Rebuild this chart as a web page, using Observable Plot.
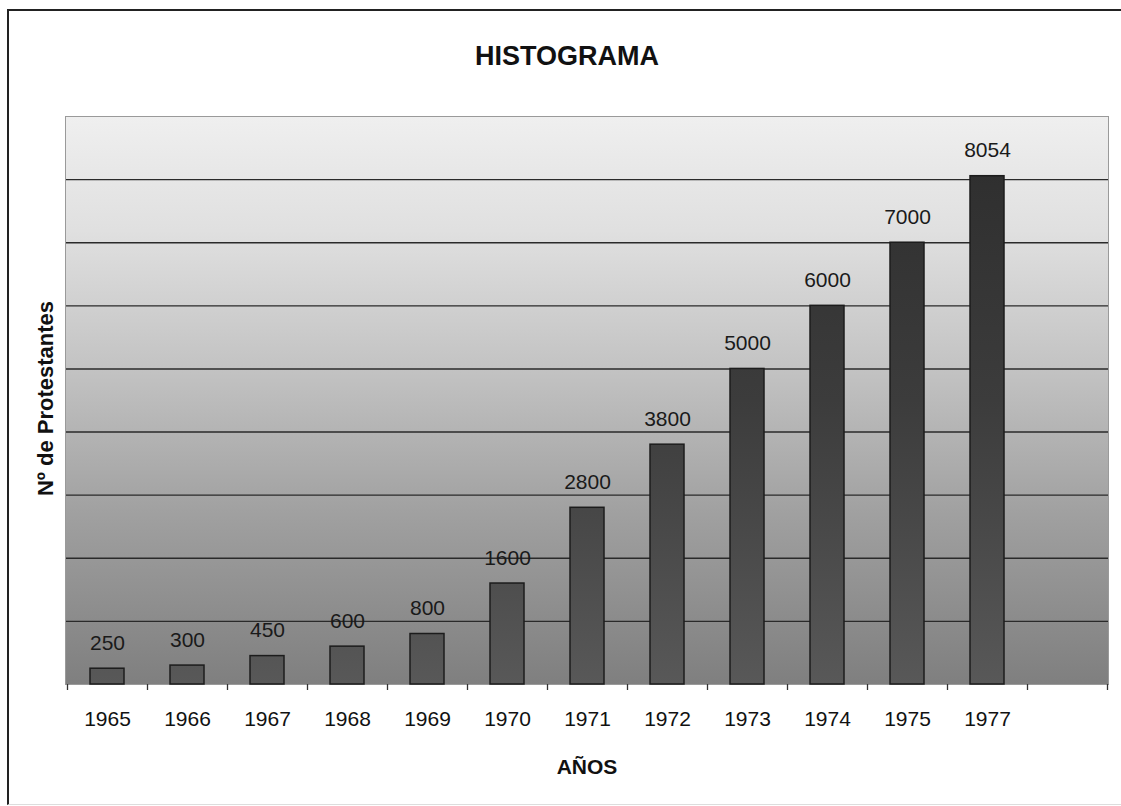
<!DOCTYPE html>
<html>
<head>
<meta charset="utf-8">
<script src="https://cdn.jsdelivr.net/npm/d3@7"></script>
<script src="https://cdn.jsdelivr.net/npm/@observablehq/plot@0.6"></script>
<style>
  html, body { margin: 0; padding: 0; background: #fff; overflow: hidden; }
  #wrap { position: relative; width: 1121px; height: 806px; overflow: hidden; }
  #frame { position: absolute; left: 7px; top: 9px; right: -20px; bottom: 1px;
           border-left: 2px solid #222; border-top: 2px solid #222; border-bottom: 1px solid #ddd;
           pointer-events: none; }
  #chart { position: absolute; left: 0; top: 0; }
</style>
</head>
<body>
<div id="wrap"><div id="chart"></div><div id="frame"></div></div>
<script>
const title = "HISTOGRAMA";
const xTitle = "AÑOS";
const yTitle = "Nº de Protestantes";
const years = ["1965", "1966", "1967", "1968", "1969", "1970", "1971", "1972", "1973", "1974", "1975", "1977"];
const values = [250, 300, 450, 600, 800, 1600, 2800, 3800, 5000, 6000, 7000, 8054];
const xDomain = [...years, " "];
const yDomain = [0, 9000];
const gridValues = [1000, 2000, 3000, 4000, 5000, 6000, 7000, 8000];

const data = years.map((year, i) => ({year, value: values[i]}));
const font = "'Liberation Sans', Arial, Helvetica, sans-serif";

const svg = Plot.plot({
  width: 1121,
  height: 806,
  marginLeft: 65,
  marginRight: 13,
  marginTop: 116,
  marginBottom: 122,
  style: {fontFamily: font, fontSize: "21px", color: "#111", background: "transparent"},
  x: {type: "band", domain: xDomain, paddingInner: 0.575, paddingOuter: 0.2875},
  y: {domain: yDomain, axis: null},
  marks: [
    Plot.frame({fill: "url(#bg)"}),
    Plot.ruleY(gridValues, {stroke: "#2a2a2a", strokeWidth: 1.4}),
    Plot.ruleY([0], {stroke: "#555", strokeWidth: 1}),
    Plot.frame({stroke: "#9a9a9a", strokeWidth: 1}),
    Plot.barY(data, {x: "year", y: "value", fill: "url(#barg)", stroke: "#1c1c1c", strokeWidth: 1.5}),
    Plot.text(data, {x: "year", y: "value", text: d => String(d.value), lineAnchor: "bottom", dy: -19, fontSize: 21, fill: "#1a1a1a"}),
    Plot.ruleX(xDomain, {x: d => d, y1: 0, y2: 0, dx: -40, insetBottom: -6, stroke: "#333", strokeWidth: 1.3}),
    Plot.ruleX([xDomain[xDomain.length - 1]], {x: d => d, y1: 0, y2: 0, dx: 40, insetBottom: -6, stroke: "#333", strokeWidth: 1.3}),
    Plot.axisX({tickSize: 0, tickPadding: 27, fontSize: 21, label: null}),
    Plot.text([title], {text: d => d, frameAnchor: "top", textAnchor: "middle", lineAnchor: "bottom", dy: -52, dx: -20, fontSize: 27, fontWeight: "bold", fill: "#111"}),
    Plot.text([xTitle], {text: d => d, frameAnchor: "bottom", textAnchor: "middle", lineAnchor: "bottom", dy: 89, fontSize: 21, fontWeight: "bold", fill: "#111"}),
    Plot.text([yTitle], {text: d => d, frameAnchor: "left", textAnchor: "middle", lineAnchor: "middle", rotate: -90, dx: -20, dy: -2, fontSize: 22, fontWeight: "bold", fill: "#111", letterSpacing: "1.5px"})
  ]
});

svg.insertAdjacentHTML("afterbegin", `
<defs>
  <linearGradient id="bg" x1="0" y1="0" x2="0" y2="1">
    <stop offset="0" stop-color="#efefef"/>
    <stop offset="0.2" stop-color="#e0e0e0"/>
    <stop offset="0.45" stop-color="#c2c2c2"/>
    <stop offset="0.7" stop-color="#a0a0a0"/>
    <stop offset="1" stop-color="#7f7f7f"/>
  </linearGradient>
  <linearGradient id="barg" gradientUnits="userSpaceOnUse" x1="0" y1="116" x2="0" y2="684">
    <stop offset="0" stop-color="#2c2c2c"/>
    <stop offset="0.5" stop-color="#3c3c3c"/>
    <stop offset="1" stop-color="#585858"/>
  </linearGradient>
</defs>`);

document.getElementById("chart").appendChild(svg);
</script>
</body>
</html>
